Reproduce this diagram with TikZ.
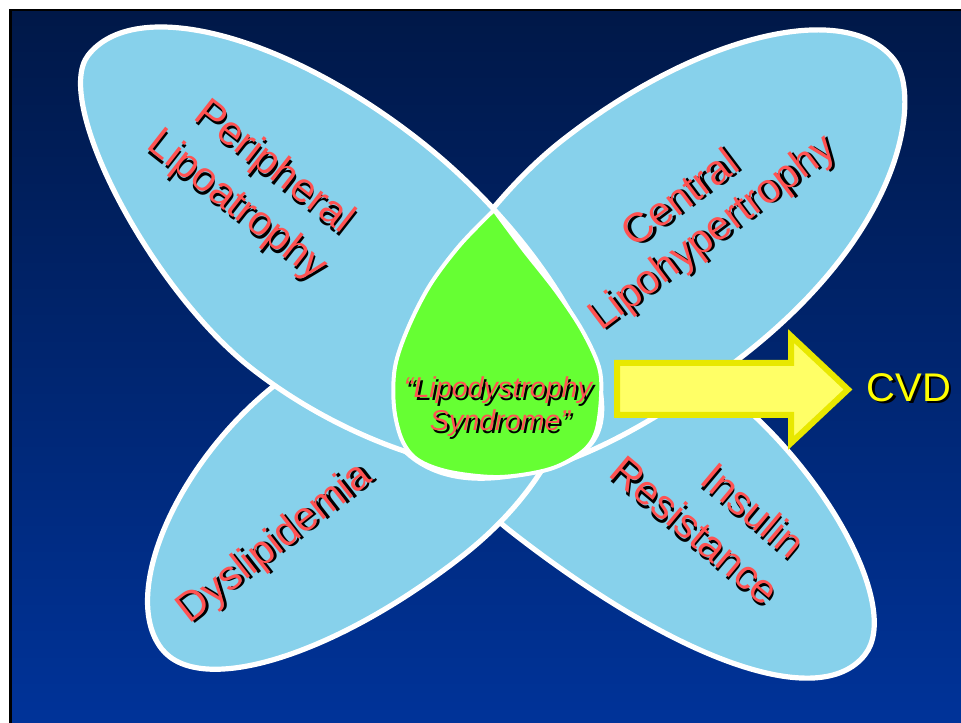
\documentclass[tikz,border=0pt]{standalone}
\usepackage{fontspec}
\setmainfont{Liberation Sans}
\definecolor{petal}{RGB}{135,209,235}
\definecolor{dropgreen}{RGB}{102,255,51}
\definecolor{labelred}{RGB}{255,82,82}
\definecolor{arrowfill}{RGB}{255,255,102}
\definecolor{arrowline}{RGB}{232,232,0}
\definecolor{bgtop}{RGB}{0,24,72}
\definecolor{bgbot}{RGB}{0,51,153}
\definecolor{cvdyellow}{RGB}{255,255,0}
\newcommand{\shadowed}[1]{\makebox[0pt][l]{\hspace{1.8pt}\raisebox{-1.8pt}{\color{black}#1}}#1}
\begin{document}
\begin{tikzpicture}[x=0.75pt,y=-0.75pt,
  petalshape/.style={fill=petal,draw=white,line width=3.9pt,line join=round},
  dropshape/.style={fill=dropgreen,draw=white,line width=3pt},
  arrowshape/.style={fill=arrowfill,draw=arrowline,line width=4.5pt,line join=miter},
  plframe/.style={reset cm,shift={(255pt,-192pt)},x={(0.591pt,-0.462pt)},y={(-0.462pt,-0.591pt)}},
  ctframe/.style={reset cm,shift={(480pt,-192pt)},x={(-0.591pt,-0.462pt)},y={(0.462pt,-0.591pt)}},
  irframe/.style={reset cm,shift={(462pt,-345pt)},x={(0.591pt,-0.462pt)},y={(-0.462pt,-0.591pt)}},
  dyframe/.style={reset cm,shift={(300pt,-345pt)},x={(-0.591pt,-0.462pt)},y={(0.462pt,-0.591pt)}},
  lbl/.style={text=labelred,font=\fontsize{31}{37}\selectfont,inner sep=0pt},
  droplbl/.style={text=labelred,font=\fontsize{21.5}{26}\selectfont\itshape,inner sep=0pt,anchor=base},
  cvdlbl/.style={text=cvdyellow,font=\fontsize{30}{36}\selectfont,inner sep=0pt}]
\useasboundingbox (0,0) rectangle (961,723);
\fill[white] (0,0) rectangle (961,723);
\fill[black] (9,9) rectangle (961,723);
\shade[top color=bgtop,bottom color=bgbot] (12,12) rectangle (961,723);

% Insulin Resistance petal (bottom right)
\begin{scope}[irframe]
\draw[petalshape] (-200,0) .. controls (-200,-67.1) and (-92,-122) .. (40,-122)
  .. controls (172.5,-122) and (316,-58.6) .. (316,0)
  .. controls (316,72.6) and (173.6,121) .. (-40,121)
  .. controls (-128,121) and (-200,66.6) .. cycle;
\end{scope}

% Dyslipidemia petal (bottom left)
\begin{scope}[dyframe]
\draw[petalshape] (-200,0) .. controls (-200,-74.8) and (-87.5,-136) .. (50,-136)
  .. controls (177,-136) and (304,-67) .. (304,2)
  .. controls (304,63.9) and (172.4,114) .. (10,114)
  .. controls (-106,114) and (-200,63) .. cycle;
\end{scope}

% Central Lipohypertrophy petal (top right)
\begin{scope}[ctframe]
\draw[petalshape] (-321,2) .. controls (-321,-75.9) and (-181.8,-139) .. (-10,-139)
  .. controls (122.7,-139) and (306,-61.3) .. (306,-5)
  .. controls (306,86.1) and (182.1,142) .. (-20,142)
  .. controls (-230.7,142) and (-321,44) .. cycle;
\end{scope}

% Peripheral Lipoatrophy petal (top left)
\begin{scope}[plframe]
\draw[petalshape] (-322,-3) .. controls (-322,-78.7) and (-182.3,-140) .. (-10,-140)
  .. controls (151.5,-140) and (313,-74) .. (313,-8)
  .. controls (313,67.5) and (156.5,143) .. (0,143)
  .. controls (-128.8,143) and (-322,55.4) .. cycle;
\end{scope}

% central drop
\draw[dropshape] plot[smooth, tension=0.55] coordinates {
 (494,210) (523,249) (556,291) (582,330) (599,367) (601,397) (596,432) (582,452)
 (550,469) (500,477) (450,472) (418,460) (402,440) (394,407) (395,367) (408,328)
 (430,285) (460,245) (494,210)} -- cycle;

% arrow
\draw[arrowshape] (617,363) -- (791,363) -- (791,336) -- (848,389.5) -- (791,443)
  -- (791,415) -- (617,415) -- cycle;

% labels
\node[lbl,rotate=-38] (peri) at (273,169) {\shadowed{Peripheral}};
\node[lbl,rotate=-38] (lipoa) at (236,207) {\shadowed{Lipoatrophy}};
\node[lbl,rotate=37] (cent) at (680,198) {\shadowed{Central}};
\node[lbl,rotate=37] (lipoh) at (714,235) {\shadowed{Lipohypertrophy}};
\node[lbl,rotate=38] (dys) at (276,545) {\shadowed{Dyslipidemia}};
\node[lbl,rotate=-40] (ins) at (753,511) {\shadowed{Insulin}};
\node[lbl,rotate=-40] (res) at (695,531) {\shadowed{Resistance}};
\node[droplbl] (ld1) at (498,398) {\shadowed{“Lipodystrophy}};
\node[droplbl] (ld2) at (500,431) {\shadowed{Syndrome”}};
\node[cvdlbl] (cvd) at (909,389) {\shadowed{CVD}};
\end{tikzpicture}
\end{document}
